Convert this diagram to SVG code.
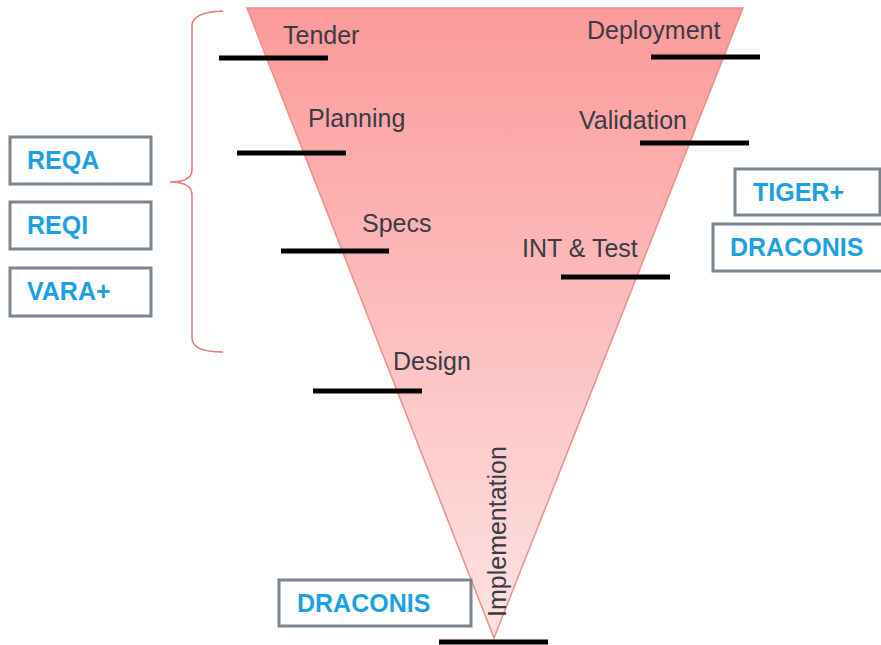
<svg xmlns="http://www.w3.org/2000/svg" width="881" height="645" viewBox="0 0 881 645">
  <defs>
    <linearGradient id="funnelFill" x1="0" y1="0" x2="0" y2="1">
      <stop offset="0" stop-color="#fb9a9a"/>
      <stop offset="1" stop-color="#fde3e3"/>
    </linearGradient>
  </defs>
  <style>
    .phase { font-family: "Liberation Sans", Arial, sans-serif; font-size: 25px; fill: #3b3b46; }
    .tool rect { fill: #ffffff; stroke: #7b8491; stroke-width: 3; }
    .tool text { font-family: "Liberation Sans", Arial, sans-serif; font-size: 25px; font-weight: bold; fill: #1ba1e2; }
    .bar { stroke: #000000; stroke-width: 5; }
    .brace { fill: none; stroke: #e07a72; stroke-width: 1.5; }
  </style>
  <rect width="881" height="645" fill="#ffffff"/>

  <!-- inverted triangle of project phases -->
  <g id="funnel">
    <polygon points="247,8 743,8 494,638" fill="url(#funnelFill)" stroke="#ef8c8c" stroke-width="1.5"/>
  </g>

  <!-- brace grouping the requirement tools -->
  <g id="brace">
    <path class="brace" d="M223,11 Q192,12 192,26 L192,170 Q192,182 170,182 Q192,182 192,195 L192,338 Q192,352 223,352"/>
  </g>

  <!-- phase milestone bars -->
  <g id="connectors">
    <line class="bar" x1="219" y1="58" x2="328" y2="58"/>
    <line class="bar" x1="237" y1="153" x2="346" y2="153"/>
    <line class="bar" x1="281" y1="251" x2="389" y2="251"/>
    <line class="bar" x1="313" y1="391" x2="422" y2="391"/>
    <line class="bar" x1="439" y1="642" x2="548" y2="642"/>
    <line class="bar" x1="651" y1="57" x2="760" y2="57"/>
    <line class="bar" x1="640" y1="143" x2="749" y2="143"/>
    <line class="bar" x1="561" y1="277" x2="670" y2="277"/>
  </g>

  <!-- phase labels -->
  <g id="phase-tender"><text class="phase" x="283" y="44">Tender</text></g>
  <g id="phase-planning"><text class="phase" x="308" y="127">Planning</text></g>
  <g id="phase-specs"><text class="phase" x="362" y="232">Specs</text></g>
  <g id="phase-design"><text class="phase" x="393" y="370">Design</text></g>
  <g id="phase-implementation"><text class="phase" transform="translate(506,617) rotate(-90)" x="0" y="0">Implementation</text></g>
  <g id="phase-int-test"><text class="phase" x="522" y="257">INT &amp; Test</text></g>
  <g id="phase-validation"><text class="phase" x="579" y="129">Validation</text></g>
  <g id="phase-deployment"><text class="phase" x="587" y="39">Deployment</text></g>

  <!-- tool boxes -->
  <g id="tool-reqa" class="tool">
    <rect x="10" y="137" width="141" height="47"/>
    <text x="27" y="169">REQA</text>
  </g>
  <g id="tool-reqi" class="tool">
    <rect x="10" y="202" width="141" height="47"/>
    <text x="27" y="234">REQI</text>
  </g>
  <g id="tool-vara" class="tool">
    <rect x="10" y="268" width="141" height="48"/>
    <text x="27" y="300">VARA+</text>
  </g>
  <g id="tool-tiger" class="tool">
    <rect x="735" y="169" width="145" height="46"/>
    <text x="753" y="201">TIGER+</text>
  </g>
  <g id="tool-draconis-test" class="tool">
    <rect x="713" y="224" width="175" height="47"/>
    <text x="730" y="256">DRACONIS</text>
  </g>
  <g id="tool-draconis-impl" class="tool">
    <rect x="279" y="580" width="192" height="46"/>
    <text x="297" y="612">DRACONIS</text>
  </g>
</svg>
